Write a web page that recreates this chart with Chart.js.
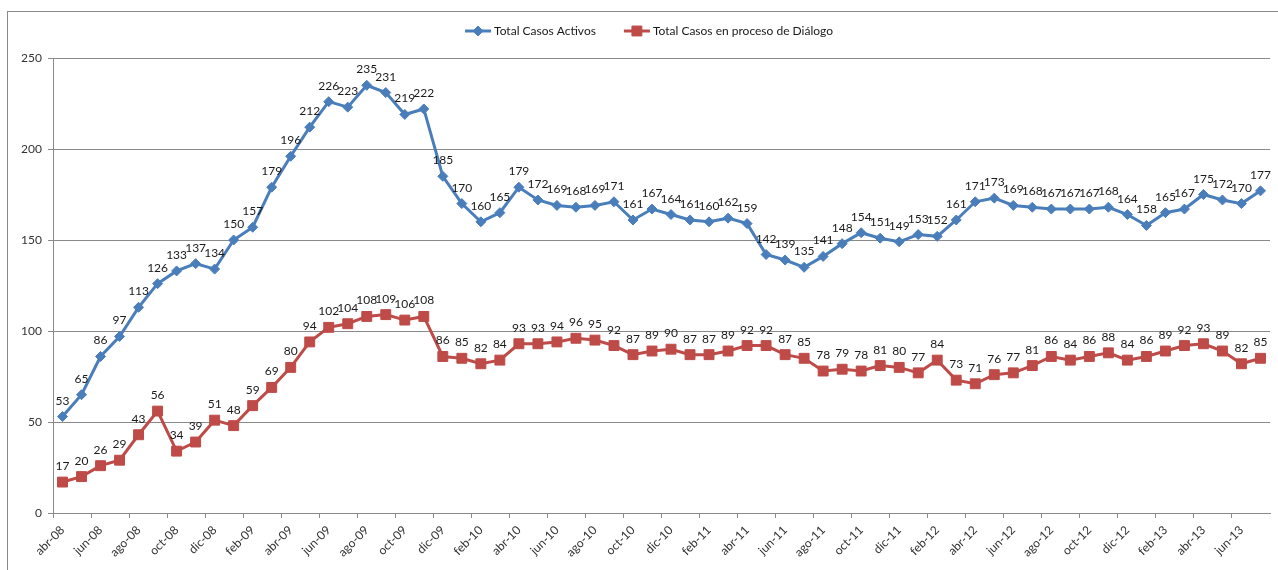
<!DOCTYPE html>
<html>
<head>
<meta charset="utf-8">
<script src="https://cdn.jsdelivr.net/npm/chart.js@4.4.0/dist/chart.umd.min.js"></script>
<style>
  html, body { margin: 0; padding: 0; background: #fff; }
  #wrap { position: relative; width: 1278px; height: 570px; }
</style>
</head>
<body>
<div id="wrap"><canvas id="lineChart" width="1278" height="570"></canvas></div>
<script>
// Months abr-08 .. jul-13
const months = [
    'abr-08','may-08','jun-08','jul-08','ago-08','sep-08','oct-08','nov-08','dic-08',
    'ene-09','feb-09','mar-09','abr-09','may-09','jun-09','jul-09','ago-09','sep-09','oct-09','nov-09','dic-09',
    'ene-10','feb-10','mar-10','abr-10','may-10','jun-10','jul-10','ago-10','sep-10','oct-10','nov-10','dic-10',
    'ene-11','feb-11','mar-11','abr-11','may-11','jun-11','jul-11','ago-11','sep-11','oct-11','nov-11','dic-11',
    'ene-12','feb-12','mar-12','abr-12','may-12','jun-12','jul-12','ago-12','sep-12','oct-12','nov-12','dic-12',
    'ene-13','feb-13','mar-13','abr-13','may-13','jun-13','jul-13'
];

const casosActivos = [
    53, 65, 86, 97, 113, 126, 133, 137, 134,
    150, 157, 179, 196, 212, 226, 223, 235, 231, 219, 222, 185,
    170, 160, 165, 179, 172, 169, 168, 169, 171, 161, 167, 164,
    161, 160, 162, 159, 142, 139, 135, 141, 148, 154, 151, 149,
    153, 152, 161, 171, 173, 169, 168, 167, 167, 167, 168, 164,
    158, 165, 167, 175, 172, 170, 177
];

const casosDialogo = [
    17, 20, 26, 29, 43, 56, 34, 39, 51,
    48, 59, 69, 80, 94, 102, 104, 108, 109, 106, 108, 86,
    85, 82, 84, 93, 93, 94, 96, 95, 92, 87, 89, 90,
    87, 87, 89, 92, 92, 87, 85, 78, 79, 78, 81, 80,
    77, 84, 73, 71, 76, 77, 81, 86, 84, 86, 88, 84,
    86, 89, 92, 93, 89, 82, 85
];

const yTicks = [0, 50, 100, 150, 200, 250];

const BLUE = '#4A7EBB';
const RED = '#BE4B48';
const GRID = '#8a8a8a';
const FONT = 'Lato, "Open Sans", sans-serif';

// Outer frame like the Excel chart area
const framePlugin = {
    id: 'frame',
    beforeDraw(chart) {
        const ctx = chart.ctx;
        ctx.save();
        ctx.strokeStyle = GRID;
        ctx.lineWidth = 1;
        ctx.strokeRect(7.5, 11.5, chart.width + 20, chart.height + 20);
        ctx.restore();
    }
};

// Value labels above each point
const valueLabels = {
    id: 'valueLabels',
    afterDatasetsDraw(chart) {
        const ctx = chart.ctx;
        ctx.save();
        ctx.font = '12px ' + FONT;
        ctx.fillStyle = '#1a1a1a';
        ctx.textAlign = 'center';
        ctx.textBaseline = 'alphabetic';
        chart.data.datasets.forEach((ds, i) => {
            chart.getDatasetMeta(i).data.forEach((pt, j) => {
                ctx.fillText(String(ds.data[j]), pt.x, pt.y - 12);
            });
        });
        ctx.restore();
    }
};

// Legend: line + marker + text, centered at top
const legendPlugin = {
    id: 'customLegend',
    afterDraw(chart) {
        const ctx = chart.ctx;
        ctx.save();
        ctx.font = '12px ' + FONT;
        const lineW = 26, gapText = 3, gapItem = 28, y = 31;
        const items = chart.data.datasets.map(ds => ({
            ds, w: lineW + gapText + ctx.measureText(ds.label).width
        }));
        const total = items.reduce((s, it) => s + it.w, 0) + gapItem * (items.length - 1);
        let x = 649 - total / 2;
        items.forEach(it => {
            const ds = it.ds;
            ctx.strokeStyle = ds.borderColor;
            ctx.fillStyle = ds.borderColor;
            ctx.lineWidth = 3;
            ctx.beginPath();
            ctx.moveTo(x, y);
            ctx.lineTo(x + lineW, y);
            ctx.stroke();
            ctx.lineWidth = 1;
            Chart.helpers.drawPoint(ctx, {
                pointStyle: ds.pointStyle,
                radius: ds.pointRadius,
                borderWidth: 1
            }, x + lineW / 2, y);
            ctx.fillStyle = '#1a1a1a';
            ctx.textAlign = 'left';
            ctx.textBaseline = 'middle';
            ctx.fillText(ds.label, x + lineW + gapText, y);
            x += it.w + gapItem;
        });
        ctx.restore();
    }
};

function buildChart() {
    const ctx = document.getElementById('lineChart');
    new Chart(ctx, {
        type: 'line',
        data: {
            labels: months,
            datasets: [{
                label: 'Total Casos Activos',
                data: casosActivos,
                borderColor: BLUE,
                backgroundColor: BLUE,
                borderWidth: 3,
                pointStyle: 'rectRot',
                pointRadius: 5,
                pointBorderWidth: 1,
                pointBorderColor: BLUE,
                pointBackgroundColor: BLUE,
                tension: 0
            }, {
                label: 'Total Casos en proceso de Diálogo',
                data: casosDialogo,
                borderColor: RED,
                backgroundColor: RED,
                borderWidth: 3,
                pointStyle: 'rect',
                pointRadius: 7,
                pointBorderWidth: 1,
                pointBorderColor: RED,
                pointBackgroundColor: RED,
                tension: 0
            }]
        },
        options: {
            responsive: false,
            animation: false,
            layout: { padding: { top: 58, left: 0, right: 5, bottom: 0 } },
            plugins: {
                legend: { display: false },
                tooltip: { enabled: false }
            },
            scales: {
                x: {
                    type: 'category',
                    offset: true,
                    afterFit(scale) { scale.height = 57; },
                    border: { color: GRID, width: 1 },
                    grid: {
                        offset: true,
                        drawOnChartArea: false,
                        drawTicks: true,
                        tickLength: 5,
                        color: c => (c.index % 2 === 0 ? GRID : 'rgba(0,0,0,0)')
                    },
                    ticks: {
                        autoSkip: false,
                        minRotation: 45,
                        maxRotation: 45,
                        padding: 5,
                        color: '#333',
                        font: { family: FONT, size: 12 },
                        callback: function(val, idx) {
                            return idx % 2 === 0 ? this.getLabelForValue(val) : '';
                        }
                    }
                },
                y: {
                    min: 0,
                    max: 250,
                    afterFit(scale) { scale.width = 53; },
                    afterBuildTicks(scale) { scale.ticks = yTicks.map(v => ({ value: v })); },
                    border: { color: GRID, width: 1 },
                    grid: {
                        color: GRID,
                        lineWidth: 1,
                        drawTicks: true,
                        tickLength: 5
                    },
                    ticks: {
                        padding: 6,
                        color: '#333',
                        font: { family: FONT, size: 12 }
                    }
                }
            }
        },
        plugins: [framePlugin, valueLabels, legendPlugin]
    });
}

document.addEventListener('DOMContentLoaded', function() {
    buildChart();
});
</script>
</body>
</html>
